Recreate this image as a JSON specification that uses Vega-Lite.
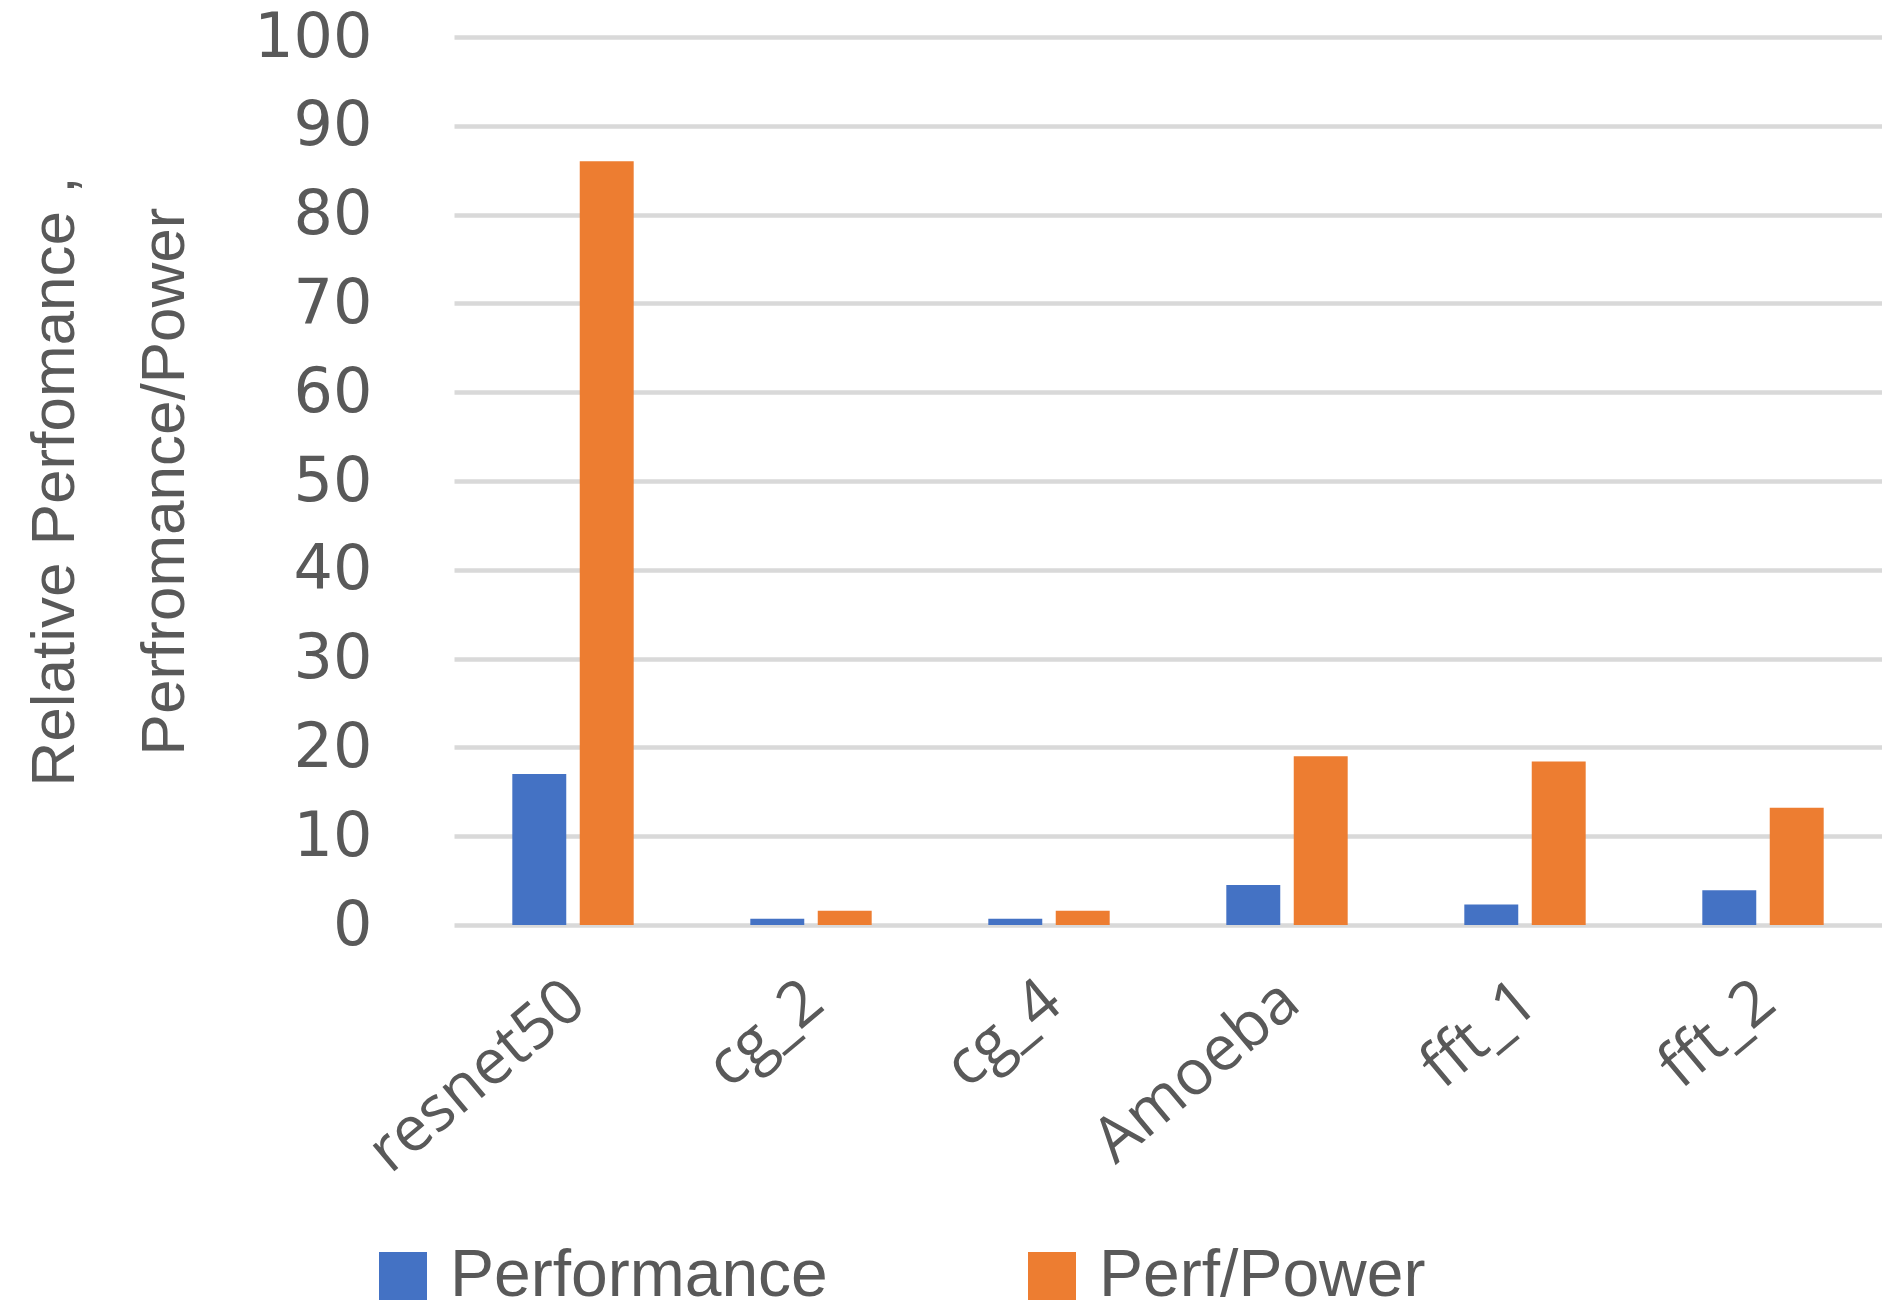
{
  "$schema": "https://vega.github.io/schema/vega-lite/v6.json",
  "autosize": {"type": "none"},
  "padding": {"left": 454, "top": 37, "right": 0, "bottom": 388},
  "width": 1428,
  "height": 888,
  "background": "white",
  "data": {
    "values": [
      {"benchmark": "resnet50", "series": "Performance", "value": 17.0},
      {"benchmark": "resnet50", "series": "Perf/Power", "value": 86.0},
      {"benchmark": "cg_2", "series": "Performance", "value": 0.7},
      {"benchmark": "cg_2", "series": "Perf/Power", "value": 1.6},
      {"benchmark": "cg_4", "series": "Performance", "value": 0.7},
      {"benchmark": "cg_4", "series": "Perf/Power", "value": 1.6},
      {"benchmark": "Amoeba", "series": "Performance", "value": 4.5},
      {"benchmark": "Amoeba", "series": "Perf/Power", "value": 19.0},
      {"benchmark": "fft_1", "series": "Performance", "value": 2.3},
      {"benchmark": "fft_1", "series": "Perf/Power", "value": 18.4},
      {"benchmark": "fft_2", "series": "Performance", "value": 3.9},
      {"benchmark": "fft_2", "series": "Perf/Power", "value": 13.2}
    ]
  },
  "mark": {"type": "bar"},
  "encoding": {
    "x": {
      "field": "benchmark",
      "type": "nominal",
      "sort": ["resnet50", "cg_2", "cg_4", "Amoeba", "fft_1", "fft_2"],
      "scale": {"paddingInner": 0.49, "paddingOuter": 0.245},
      "axis": {
        "title": null,
        "labelAngle": -40,
        "labelFont": "Open Sans",
        "labelFontSize": 63,
        "labelColor": "#595959",
        "labelPadding": 44,
        "labelOffset": -16,
        "labelLimit": 0,
        "domain": false,
        "ticks": false,
        "grid": false
      }
    },
    "xOffset": {
      "field": "series",
      "type": "nominal",
      "sort": ["Performance", "Perf/Power"],
      "scale": {"paddingInner": 0.2}
    },
    "y": {
      "field": "value",
      "type": "quantitative",
      "scale": {"domain": [0, 100], "nice": false},
      "axis": {
        "title": ["Relative Perfomance ,", "Perfromance/Power"],
        "titleFont": "Liberation Sans",
        "titleFontSize": 62,
        "titleFontWeight": "normal",
        "titleColor": "#595959",
        "titleLineHeight": 110,
        "titlePadding": 58,
        "values": [0, 10, 20, 30, 40, 50, 60, 70, 80, 90, 100],
        "labelFont": "DejaVu Sans",
        "labelFontSize": 62,
        "labelColor": "#595959",
        "labelPadding": 82,
        "domain": false,
        "ticks": false,
        "grid": true,
        "gridColor": "#d9d9d9",
        "gridWidth": 4.5
      }
    },
    "color": {
      "field": "series",
      "type": "nominal",
      "sort": ["Performance", "Perf/Power"],
      "scale": {"domain": ["Performance", "Perf/Power"], "range": ["#4472C4", "#ED7D31"]},
      "legend": {
        "title": null,
        "orient": "none",
        "legendX": -84,
        "legendY": 1206,
        "direction": "horizontal",
        "columns": 2,
        "columnPadding": 191,
        "symbolType": "square",
        "symbolSize": 2304,
        "symbolStrokeWidth": 0,
        "labelFont": "Liberation Sans",
        "labelFontSize": 66,
        "labelColor": "#595959",
        "labelOffset": 14,
        "labelLimit": 0
      }
    }
  },
  "config": {"view": {"stroke": null}}
}
